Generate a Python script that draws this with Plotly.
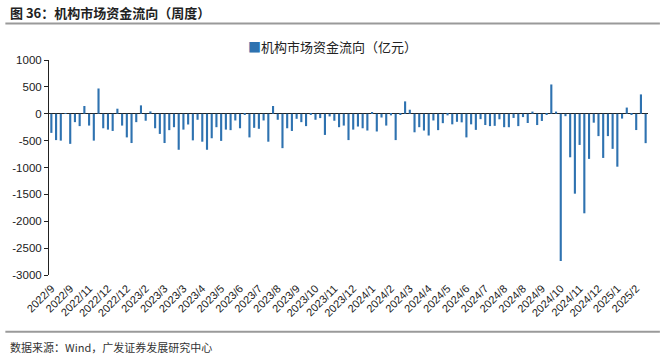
import plotly.graph_objects as go

# weekly institutional market fund flow (100 million CNY)
flows = [
    -356, -490, -500, 10, -560, -156, -230, 144, -220, -500,
    470, -270, -295, -320, 94, -220, -440, -545, -156, 156,
    -130, 44, -270, -375, -545, -305, -250, -670, -295, -200,
    -495, -112, -520, -670, -456, -250, -505, -295, -305, -125,
    -270, -10, -440, -262, -280, -125, -520, 144, -112, -640,
    -270, -320, -94, -156, -230, -10, -112, -81, -394, -50,
    -130, -250, -220, -490, -295, -238, -270, -312, 20, -330,
    -70, -220, -30, -490, -10, 230, 75, -345, -250, -312,
    -405, -125, -305, -175, -30, -197, -150, -160, -440, -197,
    -300, -100, -210, -230, -225, -103, -250, -250, -78, -230,
    -62, -172, 40, -210, -134, -10, 545, 40, -2740, -45,
    -810, -1487, -580, -1852, -840, -166, -416, -822, -416, -653,
    -985, -90, 115, -5, -303, 360, -547,
]
week_index = list(range(len(flows)))

tick_labels = [
    "2022/9", "2022/9", "2022/11", "2022/12", "2022/12", "2023/2", "2023/3", "2023/3",
    "2023/4", "2023/5", "2023/6", "2023/7", "2023/8", "2023/9", "2023/10", "2023/11",
    "2023/12", "2024/1", "2024/2", "2024/3", "2024/4", "2024/5", "2024/6", "2024/7",
    "2024/8", "2024/8", "2024/9", "2024/10", "2024/11", "2024/12", "2025/1", "2025/2",
]
tick_positions = [i * 4 for i in range(len(tick_labels))]

y_ticks = [1000, 500, 0, -500, -1000, -1500, -2000, -2500, -3000]
y_tick_text = ["1000", "500", "0", "-500", "-1000", "-1500", "-2000", "-2500", "-3000"]

series_name = "机构市场资金流向（亿元）"
title_text = "图 36：机构市场资金流向（周度）"
source_text = "数据来源：Wind，广发证券发展研究中心"

BLUE = "#2E72B0"
W, H = 660, 354
ML, MR, MT, MB = 44, 12, 59.5, 79
PW = W - ML - MR
PH = H - MT - MB


def px_x(x):
    return (x - ML) / PW


def px_y(y):
    return (H - MB - y) / PH


fig = go.Figure()
fig.add_trace(go.Bar(
    x=week_index, y=flows, name=series_name,
    marker=dict(color=BLUE, line=dict(width=0)),
    showlegend=False,
))

fig.update_layout(
    width=W, height=H,
    margin=dict(l=ML, r=MR, t=MT, b=MB, pad=0),
    paper_bgcolor="white", plot_bgcolor="white",
    bargap=0.55,
    font=dict(family="Liberation Sans, Arial, sans-serif", color="#222", size=11),
    xaxis=dict(
        range=[-0.5, len(flows) - 0.5],
        tickmode="array", tickvals=tick_positions, ticktext=tick_labels,
        tickangle=-45, showgrid=False, showline=False, zeroline=False,
        ticks="", ticklabelstandoff=4, tickfont=dict(size=11, color="#1a1a1a"),
    ),
    yaxis=dict(
        range=[-3000, 1000],
        tickmode="array", tickvals=y_ticks, ticktext=y_tick_text,
        showgrid=False, showline=True, linecolor="#222", linewidth=1,
        ticks="outside", ticklen=4, tickcolor="#222",
        zeroline=True, zerolinecolor="#222", zerolinewidth=1,
        tickfont=dict(size=11.5, color="#1a1a1a"),
    ),
    shapes=[
        dict(type="line", xref="paper", yref="paper",
             x0=px_x(0), x1=px_x(W), y0=px_y(23), y1=px_y(23),
             line=dict(color="#9a9a9a", width=2)),
        dict(type="line", xref="paper", yref="paper",
             x0=px_x(0), x1=px_x(W), y0=px_y(332), y1=px_y(332),
             line=dict(color="#9a9a9a", width=2)),
    ],
    annotations=[
        dict(xref="paper", yref="paper", x=px_x(3), y=px_y(12),
             xanchor="left", yanchor="middle", showarrow=False,
             text="<b>" + title_text + "</b>",
             font=dict(family="Noto Sans CJK SC, sans-serif", size=13, color="#222")),
        dict(xref="paper", yref="paper", x=px_x(330), y=px_y(46),
             xanchor="center", yanchor="middle", showarrow=False,
             text="<span style='color:" + BLUE + "'>■</span>" + series_name,
             font=dict(family="Noto Sans CJK SC, sans-serif", size=13, color="#222")),
        dict(xref="paper", yref="paper", x=px_x(3), y=px_y(347),
             xanchor="left", yanchor="middle", showarrow=False,
             text=source_text,
             font=dict(family="Noto Sans CJK SC, sans-serif", size=11, color="#333")),
    ],
)

fig.write_html("out.html")
